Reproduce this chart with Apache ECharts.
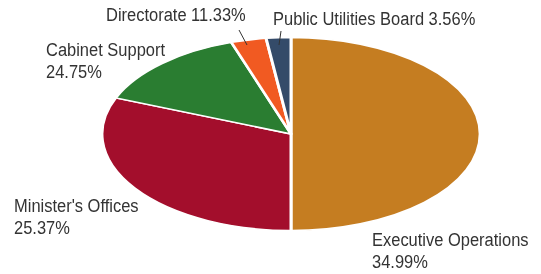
<!DOCTYPE html>
<html>
<head>
<meta charset="utf-8">
<script src="https://cdn.jsdelivr.net/npm/echarts@6/dist/echarts.min.js"></script>
<style>
  html, body { margin: 0; padding: 0; background: #fff; }
  #wrap { position: relative; width: 541px; height: 274px; overflow: hidden; }
  /* pie is drawn round, then squashed into the flat ellipse of the original */
  #pie { position: absolute; left: 101px; top: 37px; width: 380px; height: 380px;
         transform: scaleY(0.5105); transform-origin: 0 0; }
  #labels { position: absolute; left: 0; top: 0; width: 541px; height: 274px; }
</style>
</head>
<body>
<div id="wrap">
  <div id="pie"></div>
  <div id="labels"></div>
</div>
<script>
// slice sizes as they are drawn in the picture (%)
var names = ["Executive Operations", "Minister's Offices", "Cabinet Support", "Directorate", "Public Utilities Board"];
var shares = [50.0, 31.1, 13.8, 3.0, 2.1];
// percentages printed in the labels
var labelPct = ["34.99%", "25.37%", "24.75%", "11.33%", "3.56%"];
var colors = ["#c57d21", "#a30e2c", "#2a7d31", "#f15a22", "#344b69"];

var pieChart = echarts.init(document.getElementById("pie"), null, { renderer: "svg" });
pieChart.setOption({
  animation: false,
  color: colors,
  series: [
    {
      type: "pie",
      center: ["50%", "50%"],
      radius: "99.5%",
      startAngle: 90,
      clockwise: true,
      silent: true,
      label: { show: false },
      labelLine: { show: false },
      itemStyle: { borderColor: "#fff", borderWidth: 3 },
      data: names.map(function (n, i) { return { name: n, value: shares[i] }; })
    }
  ]
});

// labels sit in a second, unscaled chart on top
// no condensed face is installed, so the text is narrowed with scaleX
var font = '"Liberation Sans", Arial, sans-serif';
var labelPos = [
  { x: 372, y: 252, two: true },
  { x: 14, y: 218, two: true },
  { x: 46, y: 62, two: true },
  { x: 106, y: 16, two: false },
  { x: 273, y: 20, two: false }
];

var graphics = names.map(function (n, i) {
  var p = labelPos[i];
  return {
    type: "text",
    x: p.x,
    y: p.y,
    scaleX: 0.915,
    style: {
      text: p.two ? n + "\n" + labelPct[i] : n + " " + labelPct[i],
      font: "18px " + font,
      fill: "#333",
      lineHeight: 22,
      verticalAlign: "middle"
    }
  };
});

graphics.push(
  { type: "line", shape: { x1: 239, y1: 30, x2: 247, y2: 45 }, style: { stroke: "#333", lineWidth: 1 } },
  { type: "line", shape: { x1: 281, y1: 31, x2: 279, y2: 45 }, style: { stroke: "#333", lineWidth: 1 } }
);

var labelChart = echarts.init(document.getElementById("labels"));
labelChart.setOption({
  animation: false,
  graphic: graphics
});
</script>
</body>
</html>
